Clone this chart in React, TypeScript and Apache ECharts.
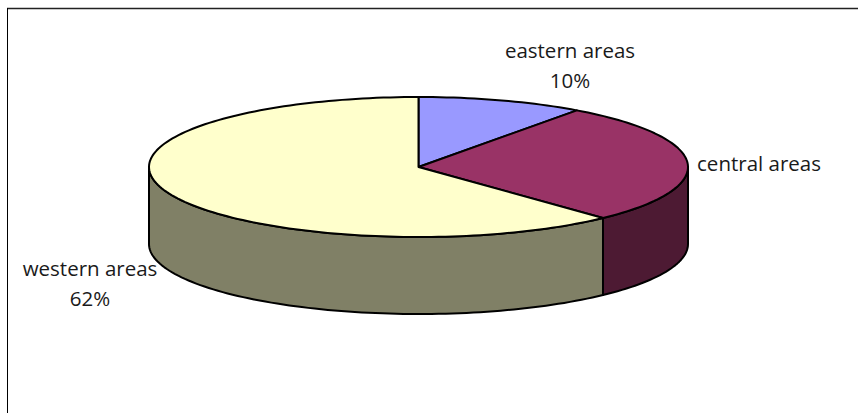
import React, { useEffect, useRef } from "react";
import * as echarts from "echarts";

const categories = ["eastern areas", "central areas", "western areas"];
const shares = [10, 28, 62];
const labelLines = [["eastern areas", "10%"], ["central areas"], ["western areas", "62%"]];
const topColors = ["#9999FF", "#993366", "#FFFFCC"];
const sideColors = ["#4D4D80", "#4D1A33", "#808066"];

const W = 858;
const H = 413;
const CX = 418.5;
const CY = 167;
const RX = 269.5;
const RY = 70;
const DEPTH = 77;
const labelPos = [
  [570, 50],
  [759, 163],
  [90, 268],
];
const total = shares.reduce((a, b) => a + b, 0);

function pt(deg: number, dy = 0): number[] {
  const r = (deg * Math.PI) / 180;
  return [CX + RX * Math.sin(r), CY - RY * Math.cos(r) + dy];
}
function arc(a: number, b: number, dy = 0): number[][] {
  const n = Math.max(2, Math.ceil(Math.abs(b - a) / 1.5));
  const out: number[][] = [];
  for (let i = 0; i <= n; i++) out.push(pt(a + ((b - a) * i) / n, dy));
  return out;
}

function renderItem(params: any, api: any) {
  const i = params.dataIndex;
  const before = shares.slice(0, i).reduce((a, b) => a + b, 0);
  const start = (before / total) * 360;
  const end = start + (api.value(1) / total) * 360;
  const children: any[] = [];
  const s = Math.max(start, 90);
  const e = Math.min(end, 270);
  const stroke = { stroke: "#000", lineWidth: 2, lineJoin: "round" };
  if (e > s) {
    children.push({
      type: "polygon",
      shape: { points: [...arc(s, e), ...arc(e, s, DEPTH)] },
      style: { fill: sideColors[i], ...stroke },
    });
  }
  children.push({
    type: "polygon",
    shape: { points: [[CX, CY], ...arc(start, end)] },
    style: { fill: topColors[i], ...stroke },
  });
  return { type: "group", children };
}

export default function App() {
  const ref = useRef<HTMLDivElement>(null);
  useEffect(() => {
    document.body.style.margin = "0";
    const chart = echarts.init(ref.current!, null, { renderer: "svg" });
    chart.setOption({
      animation: false,
      backgroundColor: "#fff",
      graphic: [
        {
          type: "line",
          silent: true,
          z: 1,
          shape: { x1: 7, y1: 8.5, x2: 858, y2: 8.5 },
          style: { stroke: "#222", lineWidth: 1.5 },
        },
        {
          type: "line",
          silent: true,
          z: 1,
          shape: { x1: 7.5, y1: 8, x2: 7.5, y2: 413 },
          style: { stroke: "#000", lineWidth: 1 },
        },
        ...labelLines.flatMap((lines, i) =>
          lines.map((t, j) => ({
            type: "text",
            z: 10,
            x: labelPos[i][0],
            y: labelPos[i][1] + j * 30,
            style: {
              text: t,
              fill: "#1a1a1a",
              font: '20.5px "Open Sans"',
              textAlign: "center",
              textVerticalAlign: "middle",
            },
          }))
        ),
      ],
      series: [
        {
          type: "custom",
          coordinateSystem: "none",
          silent: true,
          z: 5,
          renderItem,
          data: categories.map((c, i) => ({ name: c, value: [i, shares[i]] })),
        },
      ],
    });
    return () => chart.dispose();
  }, []);
  return <div ref={ref} style={{ width: W, height: H }} />;
}
